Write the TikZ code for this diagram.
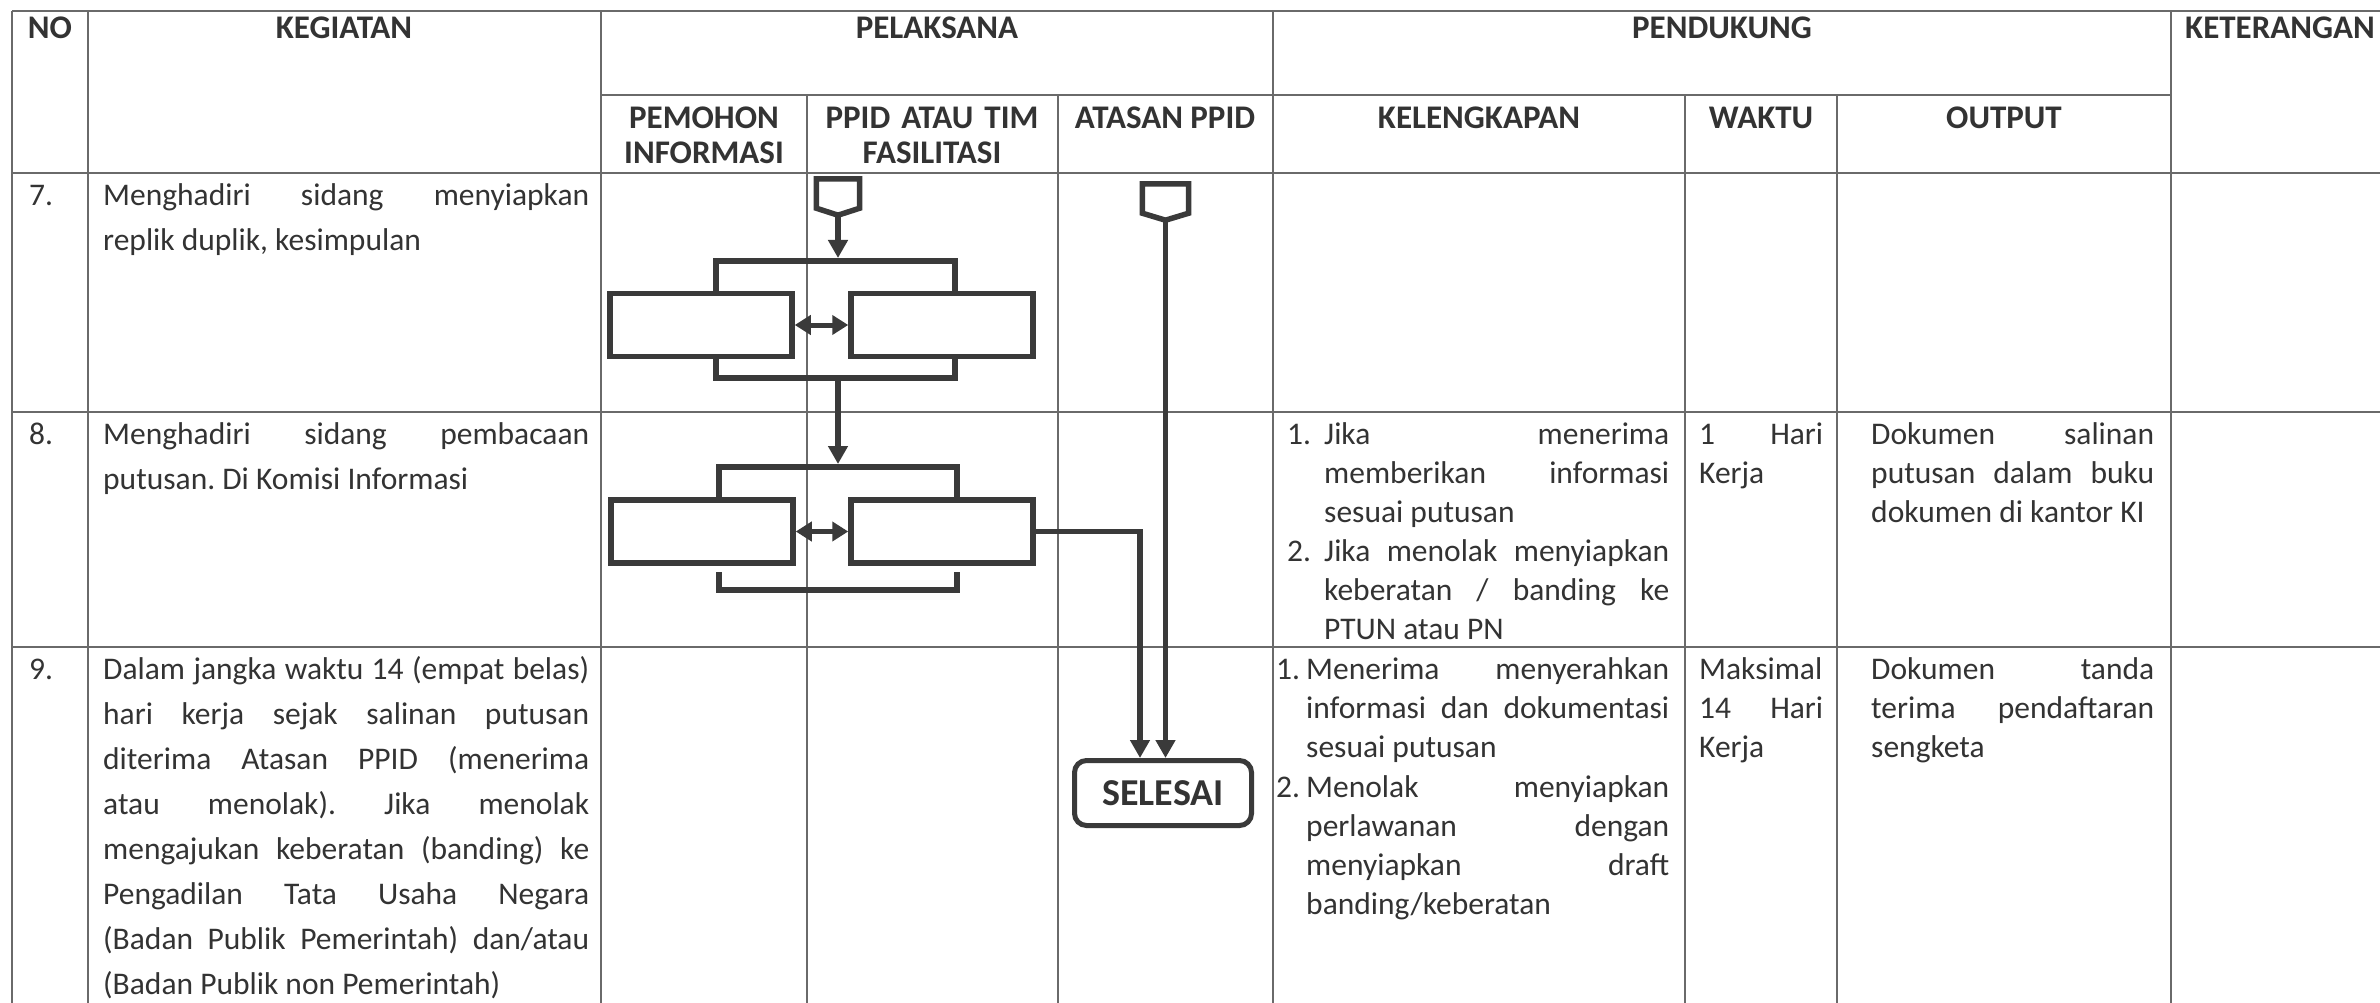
\documentclass[tikz,border=0pt]{standalone}
\usepackage{fontspec}
\setmainfont{Carlito}
\usetikzlibrary{arrows.meta,calc}
\definecolor{gridc}{HTML}{6A6A6A}
\definecolor{flowc}{HTML}{3A3A3A}
\definecolor{txtc}{HTML}{333333}
\tolerance=10000
\hbadness=10000
\hyphenpenalty=10000
\exhyphenpenalty=10000
\frenchspacing
\begin{document}
\begin{tikzpicture}[x=1pt,y=-1pt,
  grid/.style={draw=gridc, line width=1.8pt},
  flow/.style={draw=flowc, line width=5.5pt, line join=miter},
  arr/.style={flow, -{Triangle[length=18pt,width=19pt]}},
  darr/.style={flow, line width=5pt, {Triangle[length=16pt,width=19pt]}-{Triangle[length=16pt,width=19pt]}},
  box/.style={draw=flowc, line width=5.5pt, minimum width=182pt, minimum height=63pt, inner sep=0pt},
  conn/.style={inner sep=0pt},
  sel/.style={draw=flowc, line width=5pt, rounded corners=12pt, minimum width=177pt, minimum height=65pt, inner sep=0pt, text=txtc, font=\fontsize{38}{42}\selectfont\bfseries},
  hdr/.style={inner sep=0pt, anchor=base, text=txtc, font=\fontsize{33}{35}\selectfont\bfseries},
  hdrtwo/.style={inner sep=0pt, anchor=base, align=center, text=txtc, font=\fontsize{33}{35}\selectfont\bfseries},
  num/.style={inner sep=0pt, anchor=base west, text=txtc, font=\fontsize{31.5}{39}\selectfont},
  para/.style={inner sep=0pt, anchor=base west, align=justify, text=txtc, font=\fontsize{31.5}{#1}\selectfont\frenchspacing}
]
\useasboundingbox (0,0) rectangle (2380,1003);
\fill[white] (0,0) rectangle (2380,1003);

% ---------- table grid ----------
\draw[grid] (12,11) -- (2380,11);
\draw[grid] (601,95) -- (2171,95);
\draw[grid] (12,173) -- (2380,173);
\draw[grid] (12,412) -- (2380,412);
\draw[grid] (12,647) -- (2380,647);
\foreach \xx in {12,88,601,1273,2171} \draw[grid] (\xx,11) -- (\xx,1003);
\foreach \xx in {807,1058,1685,1837} \draw[grid] (\xx,95) -- (\xx,1003);

% ---------- headers ----------
\node[hdr] (hNo) at (50,39) {NO};
\node[hdr] (hKeg) at (344,39) {KEGIATAN};
\node[hdr] (hPel) at (937,39) {PELAKSANA};
\node[hdr] (hPen) at (1722,39) {PENDUKUNG};
\node[hdr] (hKet) at (2280,39) {KETERANGAN};
\node[hdrtwo, text width=200pt] (hPem) at (704,129) {PEMOHON\\INFORMASI};
\node[hdrtwo, text width=245pt] (hPpid) at (932,129) {PPID ATAU TIM\\FASILITASI};
\node[hdr] (hAt) at (1165,129) {ATASAN PPID};
\node[hdr] (hKel) at (1479,129) {KELENGKAPAN};
\node[hdr] (hWak) at (1761,129) {WAKTU};
\node[hdr] (hOut) at (2004,129) {OUTPUT};

% ---------- NO column ----------
\node[num] (n7) at (29,206) {7.};
\node[num] (n8) at (29,444) {8.};
\node[num] (n9) at (29,679) {9.};

% ---------- KEGIATAN ----------
\node[para=45, text width=486pt] (k7) at (103,206)
  {Menghadiri sidang menyiapkan\linebreak replik duplik, kesimpulan};
\node[para=45, text width=486pt] (k8) at (103,444)
  {Menghadiri sidang pembacaan\linebreak putusan. Di Komisi Informasi};
\node[para=45, text width=486pt] (k9) at (103,679)
  {Dalam jangka waktu 14 (empat belas)\linebreak hari kerja sejak salinan putusan\linebreak diterima Atasan PPID (menerima\linebreak atau menolak). Jika menolak\linebreak mengajukan keberatan (banding) ke\linebreak Pengadilan Tata Usaha Negara\linebreak (Badan Publik Pemerintah) dan/atau\linebreak (Badan Publik non Pemerintah)};

% ---------- KELENGKAPAN ----------
\node[num] (kl8a) at (1287,444) {1.};
\node[para=39, text width=345pt] (kl8at) at (1324,444)
  {Jika menerima\linebreak memberikan informasi\linebreak sesuai putusan};
\node[num] (kl8b) at (1287,561) {2.};
\node[para=39, text width=345pt] (kl8bt) at (1324,561)
  {Jika menolak menyiapkan\linebreak keberatan / banding ke\linebreak PTUN atau PN};
\node[num] (kl9a) at (1276,679) {1.};
\node[para=39.2, text width=363pt] (kl9at) at (1306,679)
  {Menerima menyerahkan\linebreak informasi dan dokumentasi\linebreak sesuai putusan};
\node[num] (kl9b) at (1276,797) {2.};
\node[para=39.2, text width=363pt] (kl9bt) at (1306,797)
  {Menolak menyiapkan\linebreak perlawanan dengan\linebreak menyiapkan draft\linebreak banding/keberatan};

% ---------- WAKTU ----------
\node[para=39, text width=124pt] (w8) at (1699,444) {1 Hari\linebreak Kerja};
\node[para=39.2, text width=124pt] (w9) at (1699,679) {Maksimal\linebreak 14 Hari\linebreak Kerja};

% ---------- OUTPUT ----------
\node[para=39, text width=283pt] (o8) at (1871,444)
  {Dokumen salinan\linebreak putusan dalam buku\linebreak dokumen di kantor KI};
\node[para=39.2, text width=283pt] (o9) at (1871,679)
  {Dokumen tanda\linebreak terima pendaftaran\linebreak sengketa};

% ---------- flowchart ----------
% off-page connectors
\node[conn, minimum width=43pt, minimum height=36pt] (c1) at (838,197) {};
\draw[flow] (c1.north west) -- (c1.north east) -- ($(c1.south east)+(0,-7)$) -- (c1.south) -- ($(c1.south west)+(0,-7)$) -- cycle;
\node[conn, minimum width=46pt, minimum height=36pt] (c2) at (1165.5,202) {};
\draw[flow] (c2.north west) -- (c2.north east) -- ($(c2.south east)+(0,-7)$) -- (c2.south) -- ($(c2.south west)+(0,-7)$) -- cycle;

% group 1
\node[box] (l1) at (701,325) {};
\node[box] (r1) at (942,325) {};
\coordinate (b1tl) at (716,261);
\coordinate (b1tr) at (955,261);
\coordinate (b1bl) at (716,378);
\coordinate (b1br) at (955,378);
\coordinate (b1in) at (838,258);
\coordinate (b1out) at (838,378);
\draw[flow] (l1.north -| b1tl) -- (b1tl) -- (b1tr) -- (r1.north -| b1tr);
\draw[flow] (l1.south -| b1bl) -- (b1bl) -- (b1br) -- (r1.south -| b1br);
\draw[darr] (l1.east) -- (r1.west);
\draw[arr] (c1.south) -- (b1in);

% group 2
\node[box] (l2) at (702,531.5) {};
\node[box] (r2) at (942,531.5) {};
\coordinate (b2tl) at (719,467);
\coordinate (b2tr) at (957,467);
\coordinate (b2in) at (838,464);
\coordinate (b2bl) at (719,590);
\coordinate (b2br) at (957,590);
\draw[flow] (l2.north -| b2tl) -- (b2tl) -- (b2tr) -- (r2.north -| b2tr);
\draw[flow] ($(b2bl)+(0,-18)$) -- (b2bl) -- (b2br) -- ($(b2br)+(0,-18)$);
\draw[darr] (l2.east) -- (r2.west);
\draw[arr] (b1out) -- (b2in);

% end
\node[sel] (sel) at (1163,793) {SELESAI};
\draw[arr] (r2.east) -| ([xshift=-23pt]sel.north);
\draw[arr] (c2.south) -- (c2.south |- sel.north);
\end{tikzpicture}
\end{document}
